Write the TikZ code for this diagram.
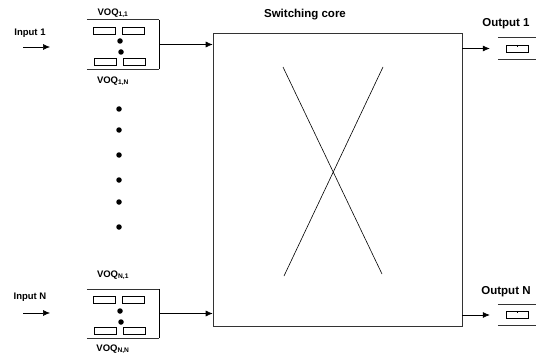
\documentclass[tikz,border=0pt]{standalone}
\usepackage{fontspec}
\setmainfont{Liberation Sans}
\usetikzlibrary{arrows.meta, positioning}

\begin{document}
\begin{tikzpicture}[
    x=1pt, y=-1pt,
    lbl/.style={font=\bfseries\fontsize{9.5}{10}\selectfont, inner sep=0pt},
    biglbl/.style={font=\bfseries\fontsize{11.5}{12}\selectfont, inner sep=0pt},
    queue/.style={rectangle, minimum width=72pt, minimum height=49pt, inner sep=0pt},
    outq/.style={rectangle, minimum width=38pt, minimum height=21pt, inner sep=0pt},
    cell/.style={rectangle, draw=black, minimum width=22pt, minimum height=7pt, inner sep=0pt},
    dot/.style={circle, fill=black, minimum size=5.5pt, inner sep=0pt},
    arrow/.style={semithick,->,>={Latex[length=7pt,width=6pt]}}
]
    \useasboundingbox (0,0) rectangle (536,353);

    % switching core
    \node (core) [rectangle, draw=black!80, semithick, minimum width=249pt, minimum height=293pt] at (337.5,179.5) {};
    \node (corelbl) [biglbl] at (305,15) {Switching core};
    \coordinate (xtl) at (283,67);
    \coordinate (xbr) at (382,274);
    \coordinate (xtr) at (383,67);
    \coordinate (xbl) at (284,276);
    \draw [semithick] (xtl) -- (xbr);
    \draw [semithick] (xtr) -- (xbl);

    % input 1
    \node (in1) [lbl] at (30,33) {Input 1};
    \coordinate (in1s) at (23,47);
    \coordinate (in1e) at (50,47);
    \draw [arrow] (in1s) -- (in1e);

    \node (voq1) [queue] at (123,44.5) {};
    \draw [semithick, black!80] (voq1.north west) -- (voq1.north east);
    \draw [semithick, black!80] (voq1.south west) -- (voq1.south east);
    \draw [thick] (voq1.north east) -- (voq1.south east);
    \node (voq11) [lbl] at (113,13) {VOQ\textsubscript{1,1}};
    \node (voq1n) [lbl] at (113,81) {VOQ\textsubscript{1,N}};

    \node (c1a) [cell, below right=7pt and 6pt of voq1.north west] {};
    \node (c1b) [cell, right=7pt of c1a] {};
    \node (c1c) [cell, above right=4pt and 7pt of voq1.south west] {};
    \node (c1d) [cell, right=7pt of c1c] {};
    \node (d1a) [dot] at (120,41) {};
    \node (d1b) [dot] at (121,52) {};

    \draw [arrow] (voq1.east) -- (voq1.east -| core.west);

    % dots between
    \node (vd1) [dot] at (119,109) {};
    \node (vd2) [dot] at (119,130) {};
    \node (vd3) [dot] at (119,155) {};
    \node (vd4) [dot] at (119,180) {};
    \node (vd5) [dot] at (119,202) {};
    \node (vd6) [dot] at (119,227) {};

    % input N
    \node (inN) [lbl] at (30,297) {Input N};
    \coordinate (inNs) at (23,313);
    \coordinate (inNe) at (50,313);
    \draw [arrow] (inNs) -- (inNe);

    \node (voqN) [queue] at (123,313.5) {};
    \draw [semithick, black!80] (voqN.north west) -- (voqN.north east);
    \draw [semithick, black!80] (voqN.south west) -- (voqN.south east);
    \draw [thick] (voqN.north east) -- (voqN.south east);
    \node (voqN1) [lbl] at (113,275) {VOQ\textsubscript{N,1}};
    \node (voqNN) [lbl] at (113,349) {VOQ\textsubscript{N,N}};

    \node (cNa) [cell, below right=7pt and 6pt of voqN.north west] {};
    \node (cNb) [cell, right=7pt of cNa] {};
    \node (cNc) [cell, above right=4pt and 7pt of voqN.south west] {};
    \node (cNd) [cell, right=7pt of cNc] {};
    \node (dNa) [dot] at (120,311) {};
    \node (dNb) [dot] at (121,322) {};

    \draw [arrow] (voqN.east) -- (voqN.east -| core.west);

    % outputs
    \node (out1) [biglbl] at (506,24) {Output 1};
    \node (oq1) [outq] at (517,48.5) {};
    \draw [semithick, black!80] (oq1.north west) -- (oq1.north east);
    \draw [semithick, black!80] (oq1.south west) -- (oq1.south east);
    \node (oc1) [cell] at (517,48.5) {};
    \draw (oc1.north) -- ++(0,2);
    \draw [arrow, shorten >=8pt] (oq1.west -| core.east) -- (oq1.west);

    \node (outN) [biglbl] at (506,292) {Output N};
    \node (oqN) [outq] at (517,315) {};
    \draw [semithick, black!80] (oqN.north west) -- (oqN.north east);
    \draw [semithick, black!80] (oqN.south west) -- (oqN.south east);
    \node (ocN) [cell] at (517,314.5) {};
    \draw (ocN.north) -- ++(0,2);
    \draw [arrow, shorten >=8pt] (oqN.west -| core.east) -- (oqN.west);
\end{tikzpicture}
\end{document}
